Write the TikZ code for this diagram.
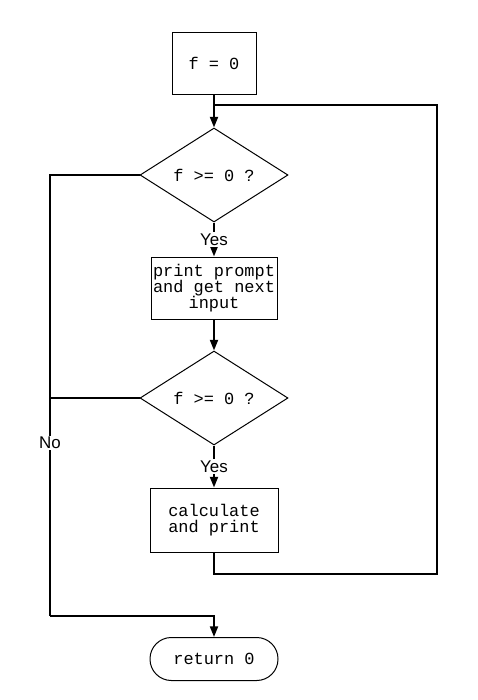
\documentclass[tikz,border=0pt]{standalone}
\usepackage{fontspec}
\setmainfont{Liberation Sans}
\setmonofont{Liberation Mono}
\usetikzlibrary{shapes.geometric,arrows.meta}
\begin{document}
\begin{tikzpicture}[x=0.75pt,y=-0.75pt,
  shp/.style={draw,line width=0.75pt,font=\ttfamily\fontsize{12.7}{12}\selectfont,align=center,inner sep=0pt},
  box/.style={shp,rectangle},
  dec/.style={shp,diamond,aspect=1.574,minimum width=111pt,minimum height=70.5pt},
  term/.style={shp,rectangle,rounded corners=16pt,minimum width=96pt,minimum height=32.25pt},
  conn/.style={line width=1.5pt},
  arr/.style={conn,-{Triangle[length=8pt,width=6pt]}},
  lbl/.style={fill=white,inner sep=1pt,font=\fontsize{12.7}{14}\selectfont}
]
\useasboundingbox (0,0) rectangle (478,700);
\node[box,minimum width=63pt,minimum height=46.5pt] (b1) at (214,63) {f = 0};
\node[dec] (d1) at (214,175) {f >= 0 ?};
\node[box,minimum width=94.5pt,minimum height=46.5pt] (b2) at (214,288) {print prompt\\and get next\\input};
\node[dec] (d2) at (214,398) {f >= 0 ?};
\node[box,minimum width=96pt,minimum height=48pt] (b3) at (214,520) {calculate\\and print};
\node[term] (t) at (214,659) {return 0};
\coordinate (j1) at (214,105);
\coordinate (r1) at (437,574);
\coordinate (l1) at (50,616);
\coordinate (l2) at (50,398);
\draw[arr] (b1) -- (d1);
\draw[arr] (d1) -- node[lbl]{Yes} (b2);
\draw[arr] (b2) -- (d2);
\draw[arr] (d2) -- node[lbl]{Yes} (b3);
\draw[conn] (b3.south) |- (r1) |- (j1);
\draw[conn] (d2.west) -- (l2);
\draw[conn] (d1.west) -| (l1);
\draw[arr] (l1) -| (t.north);
\node[lbl] (no) at (50,443) {No};
\end{tikzpicture}
\end{document}
